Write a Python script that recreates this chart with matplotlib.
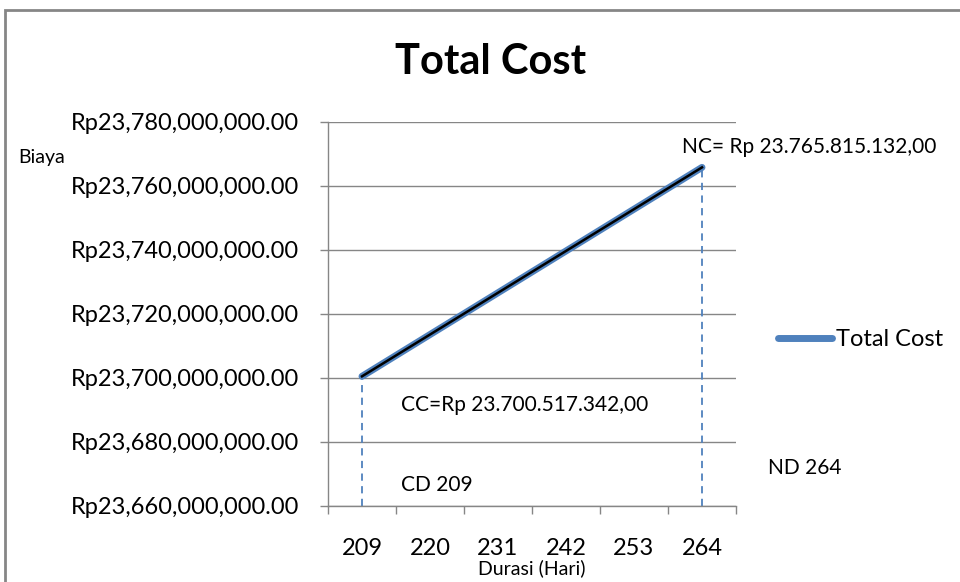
import matplotlib.pyplot as plt
from matplotlib.patches import Rectangle
from matplotlib.ticker import FuncFormatter, FixedLocator

plt.rcParams['font.family'] = ['Lato', 'DejaVu Sans']

# Durasi (hari) dan biaya total
durasi = [209, 264]
biaya = [23700517342, 23765815132]
kategori = [209, 220, 231, 242, 253, 264]
y_ticks = [23660000000, 23680000000, 23700000000, 23720000000,
           23740000000, 23760000000, 23780000000]

blue = '#4F81BD'
grey = '#868686'

fig = plt.figure(figsize=(9.6, 5.82), dpi=100)
ax = fig.add_axes([328 / 960, 1 - 506 / 582, 408 / 960, 384 / 582])

# garis biaya total (biru dengan garis hitam di atasnya)
ax.plot(durasi, biaya, color=blue, lw=5, solid_capstyle='round', label='Total Cost', zorder=3)
ax.plot(durasi, biaya, color='black', lw=1.8, zorder=4)

# garis putus-putus ke sumbu x
for d, b in zip(durasi, biaya):
    ax.plot([d, d], [y_ticks[0], b], color=blue, lw=1.3, ls=(0, (4, 3)), zorder=2)

step = kategori[1] - kategori[0]
ax.set_xlim(kategori[0] - step / 2, kategori[-1] + step / 2)
ax.set_ylim(y_ticks[0], y_ticks[-1])
ax.set_xticks(kategori)
ax.set_xticklabels([str(k) for k in kategori])
ax.xaxis.set_minor_locator(FixedLocator([k - step / 2 for k in kategori] + [kategori[-1] + step / 2]))
ax.tick_params(axis='x', which='major', length=0, labelsize=17, pad=23)
ax.tick_params(axis='x', which='minor', length=6, color=grey, width=1)
ax.set_yticks(y_ticks)
ax.yaxis.set_major_formatter(FuncFormatter(lambda v, p: 'Rp{:,.2f}'.format(v)))
ax.tick_params(axis='y', length=6, color=grey, width=1, labelsize=17, pad=15)
ax.grid(axis='y', color=grey, lw=1)
ax.set_axisbelow(True)

for s in ['top', 'right']:
    ax.spines[s].set_visible(False)
for s in ['left', 'bottom']:
    ax.spines[s].set_color(grey)
    ax.spines[s].set_linewidth(1)

ax.set_xlabel('Durasi (Hari)', fontsize=14, labelpad=0)

fig.text(491 / 960, 1 - 62 / 582, 'Total Cost', fontsize=30, fontweight='bold',
         ha='center', va='center')
fig.text(18 / 960, 1 - 158 / 582, 'Biaya', fontsize=14, ha='left', va='center')

fig.text(682 / 960, 1 - 147 / 582, 'NC= Rp 23.765.815.132,00', fontsize=15, va='center')
fig.text(401 / 960, 1 - 405 / 582, 'CC=Rp 23.700.517.342,00', fontsize=15, va='center')
fig.text(401 / 960, 1 - 485 / 582, 'CD 209', fontsize=15, va='center')
fig.text(768 / 960, 1 - 468 / 582, 'ND 264', fontsize=15, va='center')

fig.legend(loc='center left', bbox_to_anchor=(778 / 960, 1 - 340 / 582), frameon=False,
           fontsize=17, handlelength=2.3, handletextpad=0.17, borderpad=0, borderaxespad=0)

# bingkai grafik
fig.patches.append(Rectangle((5 / 960, -0.02), 1.0, 1 - 10 / 582 + 0.02, transform=fig.transFigure,
                             fill=False, edgecolor=grey, lw=2))

fig.savefig('out.png', dpi=100)
